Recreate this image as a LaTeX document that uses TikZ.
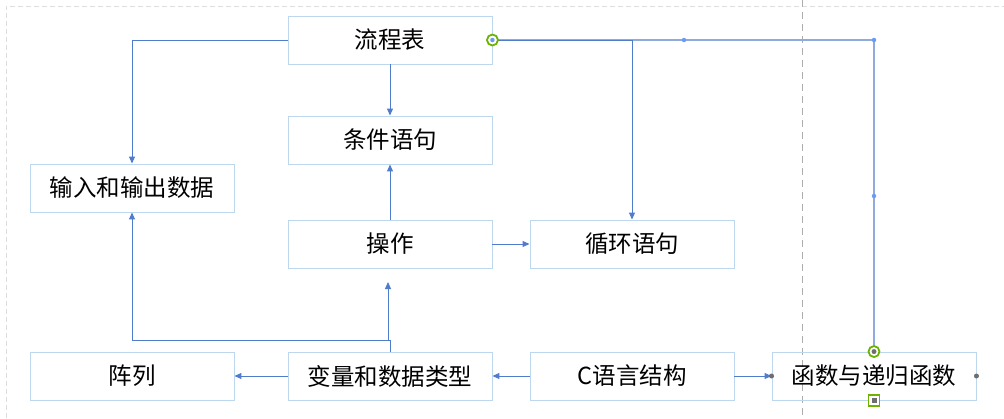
\documentclass[tikz,border=0pt]{standalone}
\usepackage{fontspec}
\setmainfont{Noto Sans CJK SC}
\usetikzlibrary{arrows.meta}
\definecolor{boxline}{HTML}{BDD7EE}
\definecolor{conn}{HTML}{4F7CCB}
\definecolor{selconn}{HTML}{8FAADC}
\definecolor{seldot}{HTML}{6A9AF5}
\definecolor{framegray}{HTML}{DDDDDD}
\definecolor{guidegray}{HTML}{ADADAD}
\definecolor{handlegreen}{HTML}{6BB300}
\definecolor{handlegray}{HTML}{6E6E6E}
\tikzset{
  topic/.style={draw=boxline, line width=0.9pt, minimum width=204pt, minimum height=48pt,
    inner sep=0pt, font=\fontsize{23.5}{28}\selectfont, text=black},
  link/.style={draw=conn, line width=1pt, -{Triangle[length=7pt,width=6pt]}},
  plain/.style={draw=conn, line width=1pt},
  sellink/.style={draw=selconn, line width=1.4pt},
  seldotst/.style={fill=seldot, circle, inner sep=0pt, minimum size=4.5pt},
  ghandle/.style={draw=handlegreen, line width=1.8pt, fill=white, circle, inner sep=0pt, minimum size=11pt},
  graydot/.style={fill=handlegray, circle, inner sep=0pt, minimum size=5pt}
}
\begin{document}
\begin{tikzpicture}[x=1pt,y=-1pt]
\useasboundingbox (0,0) rectangle (1004,418);
% frame
\draw[framegray, line width=0.8pt, dash pattern=on 5pt off 3pt] (6,418) -- (6,6) -- (1004,6);
\draw[guidegray, line width=1pt, dash pattern=on 7pt off 5pt] (802,0) -- (802,418);

% nodes
\node[topic] (flow) at (390,40) {流程表};
\node[topic] (cond) at (390,140) {条件语句};
\node[topic] (io)   at (132,188) {输入和输出数据};
\node[topic] (op)   at (390,244) {操作};
\node[topic] (loop) at (632,244) {循环语句};
\node[topic] (arr)  at (132,376) {阵列};
\node[topic] (var)  at (390,376) {变量和数据类型};
\node[topic] (cst)  at (632,376) {C语言结构};
\node[topic] (func) at (874,376) {函数与递归函数};

\coordinate (opin) at (388,282);
\coordinate (jn) at (390,340);

% connectors
\draw[link] (flow.west) -| (io.north);
\draw[link] (flow.south) -- (cond.north);
\draw[link] (op.north) -- (cond.south);
\draw[link] (op.east) -- (loop.west);
\draw[plain] (var.north) -- (jn);
\draw[link] (jn) -| (io.south);
\draw[link] (388,340) -- (opin);
\draw[link] (var.west) -- (arr.east);
\draw[link] (cst.west) -- (var.east);
\draw[link] (cst.east) -- (func.west);

% selected connector
\draw[sellink] (flow.east) -| (func.north);
\draw[link] (flow.east) -| (loop.north);
\node[seldotst] (d1) at (684,40) {};
\node[seldotst] (d2) at (874,40) {};
\node[seldotst] (d3) at (874,196) {};

% handles
\node[ghandle] (h1) at (flow.east) {};
\node[seldotst] at (h1) {};
\node[ghandle] (h2) at (func.north) {};
\node[graydot] at (h2) {};
\node[draw=handlegreen, line width=1.8pt, fill=white, minimum size=11pt, inner sep=0pt] (h3) at (func.south) {};
\node[graydot, rectangle, minimum size=5pt] at (h3) {};
\node[graydot] (h4) at (func.west) {};
\node[graydot] (h5) at (func.east) {};
\end{tikzpicture}
\end{document}
